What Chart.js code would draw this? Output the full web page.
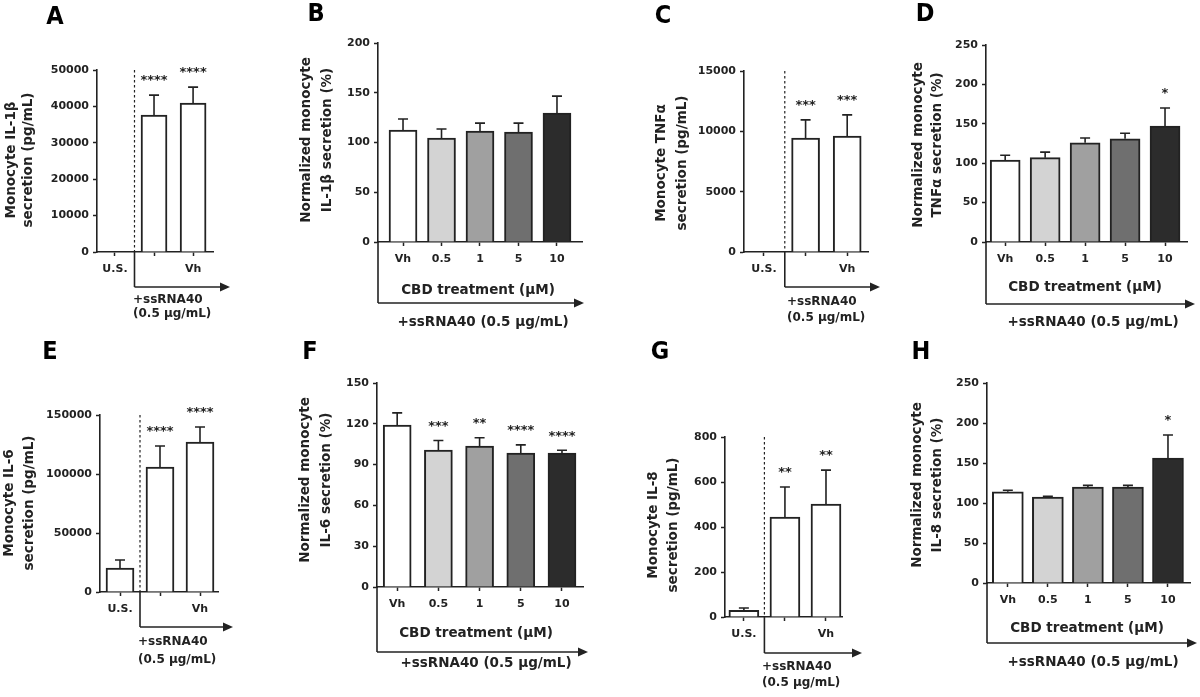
<!DOCTYPE html>
<html>
<head>
<meta charset="utf-8">
<script src="https://cdn.jsdelivr.net/npm/chart.js@4"></script>
<style>
body { margin: 0; background: #fff; width: 1200px; height: 697px; overflow: hidden; position: relative; }
canvas { position: absolute; }
</style>
</head>
<body>
<script>
// categories
const stimCats = ['U.S.', '', 'Vh'];
const cbdCats = ['Vh', '0.5', '1', '5', '10'];
const stimColors = ['#ffffff', '#ffffff', '#ffffff'];
const cbdColors = ['#ffffff', '#d3d3d3', '#a0a0a0', '#6f6f6f', '#2c2c2c'];

// A: IL-1b (pg/mL)
const il1bMean = [0, 37600, 40900];
const il1bSem = [0, 5500, 4400];
const il1bStars = ['', '****', '****'];
// B: normalized IL-1b (%)
const il1bNormMean = [112.6, 104.5, 111.5, 110.5, 129.6];
const il1bNormSem = [11, 9, 8, 9, 17];
const il1bNormStars = ['', '', '', '', ''];
// C: TNFa (pg/mL)
const tnfMean = [0, 9450, 9610];
const tnfSem = [0, 1500, 1750];
const tnfStars = ['', '***', '***'];
// D: normalized TNFa (%)
const tnfNormMean = [104, 107, 126, 131, 147];
const tnfNormSem = [6, 7, 6, 7, 23];
const tnfNormStars = ['', '', '', '', '*'];
// E: IL-6 (pg/mL)
const il6Mean = [20300, 105900, 127100];
const il6Sem = [6800, 17800, 12700];
const il6Stars = ['', '****', '****'];
// F: normalized IL-6 (%)
const il6NormMean = [119, 100.7, 103.7, 98.5, 98.5];
const il6NormSem = [9, 7, 6, 6, 2];
const il6NormStars = ['', '***', '**', '****', '****'];
// G: IL-8 (pg/mL)
const il8Mean = [30, 444, 502];
const il8Sem = [10, 134, 151];
const il8Stars = ['', '**', '**'];
// H: normalized IL-8 (%)
const il8NormMean = [114, 107.5, 120, 120, 156];
const il8NormSem = [2, 1, 2, 2, 29];
const il8NormStars = ['', '', '', '', '*'];

const stimText = ['+ssRNA40', '(0.5 μg/mL)'];
const cbdText = '+ssRNA40 (0.5 μg/mL)';
const cbdAxis = 'CBD treatment (μM)';

const INK = '#222';
const FONT = "'DejaVu Sans', sans-serif";

let panels = [
    { letter: 'A', cats: stimCats, colors: stimColors, mean: il1bMean, sem: il1bSem, stars: il1bStars,
      yMax: 50000, yStep: 10000, title: ['Monocyte IL-1β', 'secretion (pg/mL)'],
      box: [0, 0, 262, 340], area: [97, 70, 213, 252], xr: [-0.46, 2.51], barW: 26,
      letterAt: [55, 17], titleX: [11, 28], titleY: 160, drop: 287, arrowEnd: 230, textAt: [133, 300, 314] },
    { letter: 'B', cats: cbdCats, colors: cbdColors, mean: il1bNormMean, sem: il1bNormSem, stars: il1bNormStars,
      yMax: 200, yStep: 50, title: ['Normalized monocyte', 'IL-1β secretion (%)'],
      box: [290, 0, 310, 340], area: [378, 43, 582, 242], xr: [-0.65, 4.65], barW: 28,
      letterAt: [316, 14], titleX: [306, 327], titleY: 140, drop: 303, arrowEnd: 584,
      axisAt: [478, 290], textAt: [483, 322] },
    { letter: 'C', cats: stimCats, colors: stimColors, mean: tnfMean, sem: tnfSem, stars: tnfStars,
      yMax: 15000, yStep: 5000, title: ['Monocyte TNFα', 'secretion (pg/mL)'],
      box: [600, 0, 300, 340], area: [744, 71, 868, 252], xr: [-0.48, 2.5], barW: 28,
      letterAt: [663, 16], titleX: [661, 682], titleY: 163, drop: 287, arrowEnd: 880, textAt: [787, 302, 318] },
    { letter: 'D', cats: cbdCats, colors: cbdColors, mean: tnfNormMean, sem: tnfNormSem, stars: tnfNormStars,
      yMax: 250, yStep: 50, title: ['Normalized monocyte', 'TNFα secretion (%)'],
      box: [900, 0, 300, 340], area: [986, 45, 1187, 242], xr: [-0.48, 4.55], barW: 30,
      letterAt: [925, 14], titleX: [918, 937], titleY: 145, drop: 304, arrowEnd: 1195,
      axisAt: [1085, 287], textAt: [1093, 322] },
    { letter: 'E', cats: stimCats, colors: stimColors, mean: il6Mean, sem: il6Sem, stars: il6Stars,
      yMax: 150000, yStep: 50000, title: ['Monocyte IL-6', 'secretion (pg/mL)'],
      box: [0, 340, 262, 357], area: [100, 415, 218, 592], xr: [-0.5, 2.45], barW: 28,
      letterAt: [50, 352], titleX: [9, 29], titleY: 503, drop: 627, arrowEnd: 233, textAt: [138, 642, 660] },
    { letter: 'F', cats: cbdCats, colors: cbdColors, mean: il6NormMean, sem: il6NormSem, stars: il6NormStars,
      yMax: 150, yStep: 30, title: ['Normalized monocyte', 'IL-6 secretion (%)'],
      box: [290, 340, 310, 357], area: [377, 383, 583, 587], xr: [-0.49, 4.51], barW: 28,
      letterAt: [310, 352], titleX: [305, 326], titleY: 480, drop: 652, arrowEnd: 588,
      axisAt: [476, 633], textAt: [486, 663] },
    { letter: 'G', cats: stimCats, colors: stimColors, mean: il8Mean, sem: il8Sem, stars: il8Stars,
      yMax: 800, yStep: 200, title: ['Monocyte IL-8', 'secretion (pg/mL)'],
      box: [600, 340, 300, 357], area: [725, 437, 842, 617], xr: [-0.46, 2.39], barW: 30,
      letterAt: [660, 352], titleX: [653, 673], titleY: 525, drop: 653, arrowEnd: 862, textAt: [762, 667, 683] },
    { letter: 'H', cats: cbdCats, colors: cbdColors, mean: il8NormMean, sem: il8NormSem, stars: il8NormStars,
      yMax: 250, yStep: 50, title: ['Normalized monocyte', 'IL-8 secretion (%)'],
      box: [900, 340, 300, 357], area: [987, 383, 1190, 583], xr: [-0.52, 4.55], barW: 31,
      letterAt: [921, 352], titleX: [917, 937], titleY: 485, drop: 643, arrowEnd: 1197,
      axisAt: [1087, 628], textAt: [1093, 662] },
];

let arrowTo = function(ctx, x0, y, x1) {
    ctx.beginPath();
    ctx.moveTo(x0, y);
    ctx.lineTo(x1 - 8, y);
    ctx.stroke();
    ctx.beginPath();
    ctx.moveTo(x1, y);
    ctx.lineTo(x1 - 10, y - 4.5);
    ctx.lineTo(x1 - 10, y + 4.5);
    ctx.closePath();
    ctx.fill();
}

let decorPlugin = {
    id: 'decor',
    afterDatasetsDraw: function(chart) {
        let p = chart.options.plugins.decor.panel;
        let ctx = chart.ctx;
        let xs = chart.scales.x, ys = chart.scales.y;
        let ox = p.box[0], oy = p.box[1];
        let area = chart.chartArea;
        ctx.save();
        ctx.strokeStyle = INK;
        ctx.fillStyle = INK;
        ctx.lineWidth = 1.6;

        // error bars (upward) and stars
        for (let i = 0; i < p.mean.length; i++) {
            let cx = xs.getPixelForValue(i);
            let top = ys.getPixelForValue(p.mean[i] + p.sem[i]);
            if (p.sem[i] > 0) {
                ctx.beginPath();
                ctx.moveTo(cx, ys.getPixelForValue(p.mean[i]));
                ctx.lineTo(cx, top);
                ctx.moveTo(cx - 5, top);
                ctx.lineTo(cx + 5, top);
                ctx.stroke();
            }
            if (p.stars[i]) {
                ctx.font = 'bold 13px ' + FONT;
                ctx.textAlign = 'center';
                ctx.textBaseline = 'middle';
                ctx.fillText(p.stars[i], cx, top - 14);
            }
        }

        let bottom = area.bottom;
        let startX;
        if (p.cats === stimCats) {
            // dashed separator between unstimulated and stimulated
            startX = xs.getPixelForValue(0.5);
            ctx.save();
            ctx.lineWidth = 1.2;
            ctx.setLineDash([2.5, 2.5]);
            ctx.beginPath();
            ctx.moveTo(startX, area.top);
            ctx.lineTo(startX, bottom);
            ctx.stroke();
            ctx.restore();
        } else {
            startX = area.left;
        }
        ctx.beginPath();
        ctx.moveTo(startX, bottom);
        ctx.lineTo(startX, p.drop - oy);
        ctx.stroke();
        arrowTo(ctx, startX, p.drop - oy, p.arrowEnd - ox);

        ctx.textBaseline = 'middle';
        if (p.cats === stimCats) {
            ctx.font = 'bold 12px ' + FONT;
            ctx.textAlign = 'left';
            ctx.fillText(stimText[0], p.textAt[0] - ox, p.textAt[1] - oy);
            ctx.fillText(stimText[1], p.textAt[0] - ox, p.textAt[2] - oy);
        } else {
            ctx.font = 'bold 13.5px ' + FONT;
            ctx.textAlign = 'center';
            ctx.fillText(cbdAxis, p.axisAt[0] - ox, p.axisAt[1] - oy);
            ctx.fillText(cbdText, p.textAt[0] - ox, p.textAt[1] - oy);
        }

        // y title, two rotated lines
        ctx.font = 'bold 13.5px ' + FONT;
        for (let k = 0; k < 2; k++) {
            ctx.save();
            ctx.translate(p.titleX[k] - ox, p.titleY - oy);
            ctx.rotate(-Math.PI / 2);
            ctx.textAlign = 'center';
            ctx.fillText(p.title[k], 0, 0);
            ctx.restore();
        }

        // panel letter
        ctx.font = "bold 25px 'DejaVu Sans Condensed', 'DejaVu Sans', sans-serif";
        ctx.fillStyle = '#000';
        ctx.textAlign = 'center';
        ctx.fillText(p.letter, p.letterAt[0] - ox, p.letterAt[1] - oy);
        ctx.restore();
    }
}

let createPanel = function(p) {
    let canvas = document.createElement('canvas');
    let [bx, by, bw, bh] = p.box;
    let [L, T, R, B] = p.area;
    canvas.width = bw;
    canvas.height = bh;
    canvas.style.left = bx + 'px';
    canvas.style.top = by + 'px';
    canvas.style.width = bw + 'px';
    canvas.style.height = bh + 'px';
    document.body.appendChild(canvas);

    let tickFont = { family: FONT, size: 11, weight: 'bold' };
    return new Chart(canvas, {
        type: 'bar',
        data: {
            datasets: [{
                data: p.mean.map((v, i) => ({ x: i, y: v })),
                backgroundColor: p.colors,
                borderColor: INK,
                borderWidth: 2,
                barThickness: p.barW,
            }]
        },
        options: {
            responsive: false,
            animation: false,
            layout: { padding: { left: 0, bottom: 0, top: T - by, right: bx + bw - R } },
            scales: {
                x: {
                    type: 'linear',
                    offset: false,
                    min: p.xr[0],
                    max: p.xr[1],
                    afterBuildTicks: (axis) => { axis.ticks = p.cats.map((c, i) => ({ value: i })); },
                    afterFit: (axis) => { axis.height = by + bh - B; },
                    ticks: { callback: (v) => p.cats[v], font: tickFont, color: INK, padding: 7, maxRotation: 0, autoSkip: false },
                    grid: { offset: false, drawOnChartArea: false, tickLength: 4, tickWidth: 1.5, tickColor: INK },
                    border: { color: INK, width: 1.6 },
                },
                y: {
                    min: 0,
                    max: p.yMax,
                    afterFit: (axis) => { axis.width = L - bx; },
                    ticks: { stepSize: p.yStep, callback: (v) => String(v), font: tickFont, color: INK, padding: 4 },
                    grid: { drawOnChartArea: false, tickLength: 4, tickWidth: 1.5, tickColor: INK },
                    border: { color: INK, width: 1.6 },
                }
            },
            plugins: {
                legend: { display: false },
                tooltip: { enabled: false },
                decor: { panel: p },
            }
        },
        plugins: [decorPlugin]
    });
}

for (let p of panels) {
    createPanel(p);
}
</script>
</body>
</html>
